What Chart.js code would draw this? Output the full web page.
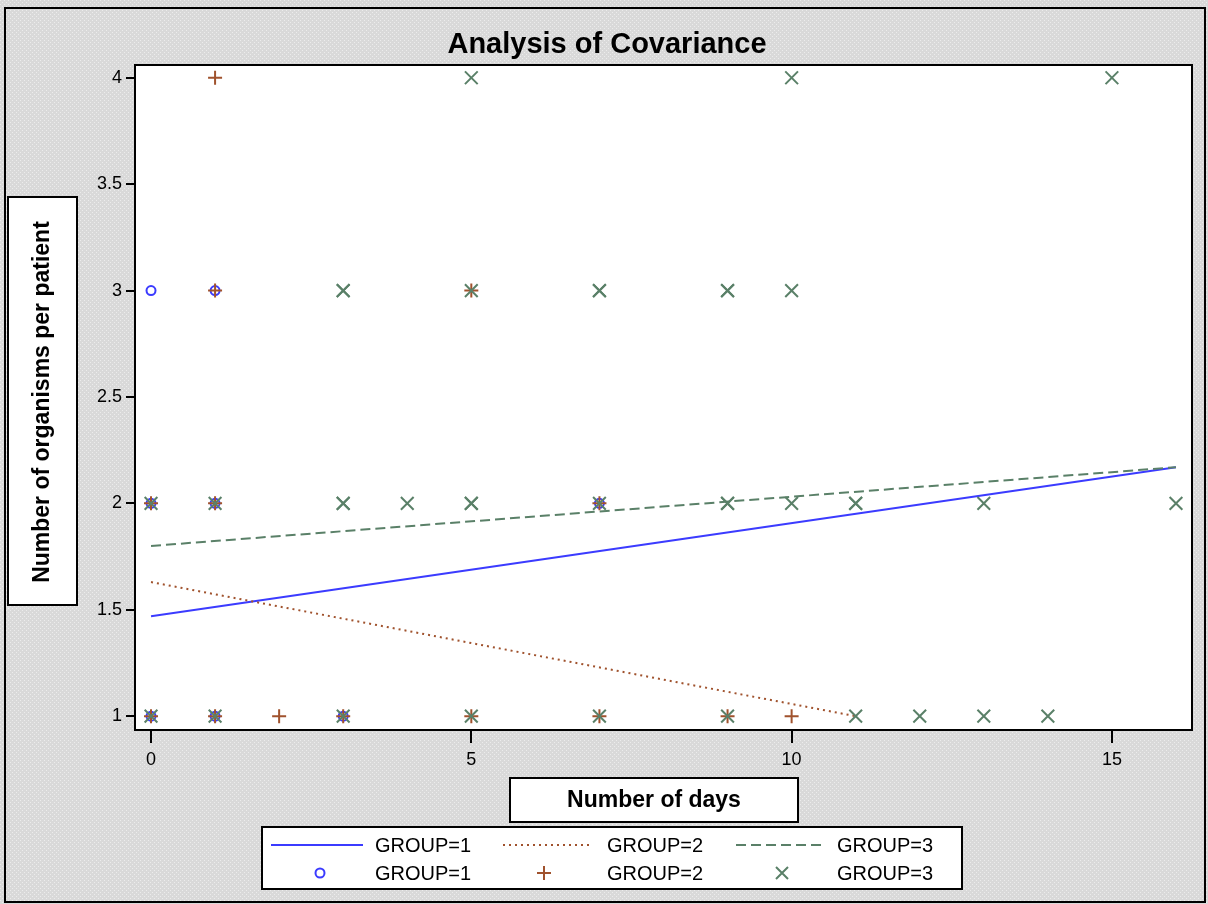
<!DOCTYPE html>
<html>
<head>
<meta charset="utf-8">
<title>Analysis of Covariance</title>
<script src="https://cdn.jsdelivr.net/npm/chart.js@4/dist/chart.umd.min.js"></script>
<style>
  html, body { margin: 0; padding: 0; background: #dcdcdc; }
  canvas { display: block; }
</style>
</head>
<body>
<canvas id="ancova" width="1208" height="904"></canvas>
<script>
// observations per group (x = days, y = organisms)
const group1X = [0, 0, 0, 1, 1, 1, 3, 7];
const group1Y = [1, 2, 3, 1, 2, 3, 1, 2];
const group2X = [0, 0, 1, 1, 1, 1, 2, 3, 5, 5, 7, 7, 9, 10];
const group2Y = [1, 2, 1, 2, 3, 4, 1, 1, 1, 3, 1, 2, 1, 1];
const group3X = [0, 0, 1, 1, 3, 3, 3, 3, 3, 4, 5, 5, 5, 5, 5, 7, 7, 7, 7, 9, 9, 9, 9, 9, 10, 10, 10, 11, 11, 11, 12, 13, 13, 14, 15, 16];
const group3Y = [1, 2, 1, 2, 1, 2, 2, 3, 3, 2, 1, 2, 2, 3, 4, 1, 2, 3, 3, 1, 2, 2, 3, 3, 2, 3, 4, 1, 2, 2, 1, 1, 2, 1, 4, 2];

// fitted lines (ends of each group's regression line)
const fit1X = [0, 16];
const fit1Y = [1.47, 2.17];
const fit2X = [0, 11];
const fit2Y = [1.63, 1.0];
const fit3X = [0, 16];
const fit3Y = [1.80, 2.17];

const xTicks = [0, 5, 10, 15];
const yTicks = [1, 1.5, 2, 2.5, 3, 3.5, 4];
const groupNames = ['GROUP=1', 'GROUP=2', 'GROUP=3'];

const BLUE = '#3b3bff';
const BROWN = '#a0522d';
const GREEN = '#5a8068';
const FONT = '"Liberation Sans", Arial, sans-serif';

const pts = (xs, ys) => xs.map((x, i) => ({ x: x, y: ys[i] }));

// gray dotted backdrop like the original graphic
function makePattern(ctx) {
    const p = document.createElement('canvas');
    p.width = 4; p.height = 4;
    const pc = p.getContext('2d');
    pc.fillStyle = '#d9d9d9';
    pc.fillRect(0, 0, 4, 4);
    pc.fillStyle = '#ececec';
    pc.fillRect(0, 0, 1, 1);
    pc.fillRect(2, 2, 1, 1);
    return ctx.createPattern(p, 'repeat');
}

function drawMarker(ctx, kind, x, y, color) {
    ctx.save();
    ctx.strokeStyle = color;
    ctx.lineWidth = 2;
    ctx.beginPath();
    if (kind === 'circle') {
        ctx.arc(x, y, 4.5, 0, Math.PI * 2);
    } else if (kind === 'cross') {
        ctx.moveTo(x - 7, y); ctx.lineTo(x + 7, y);
        ctx.moveTo(x, y - 7); ctx.lineTo(x, y + 7);
    } else {
        ctx.moveTo(x - 6, y - 6); ctx.lineTo(x + 6, y + 6);
        ctx.moveTo(x + 6, y - 6); ctx.lineTo(x - 6, y + 6);
    }
    ctx.stroke();
    ctx.restore();
}

const decorations = {
    id: 'decorations',
    beforeDraw(chart) {
        const ctx = chart.ctx;
        const a = chart.chartArea;
        ctx.save();
        ctx.fillStyle = makePattern(ctx);
        ctx.fillRect(0, 0, chart.width, chart.height);
        ctx.strokeStyle = '#000';
        ctx.lineWidth = 2;
        ctx.strokeRect(5, 8, 1200, 894);
        ctx.fillStyle = '#fff';
        ctx.fillRect(a.left, a.top, a.right - a.left, a.bottom - a.top);
        ctx.restore();
    },
    afterDraw(chart) {
        const ctx = chart.ctx;
        const a = chart.chartArea;
        ctx.save();
        ctx.strokeStyle = '#000';
        ctx.lineWidth = 2;
        ctx.strokeRect(a.left, a.top, a.right - a.left, a.bottom - a.top);

        // title
        ctx.fillStyle = '#000';
        ctx.textAlign = 'center';
        ctx.textBaseline = 'middle';
        ctx.font = 'bold 29px ' + FONT;
        ctx.fillText('Analysis of Covariance', 607, 45);

        // y axis title box
        ctx.fillStyle = '#fff';
        ctx.fillRect(8, 197, 69, 408);
        ctx.strokeRect(8, 197, 69, 408);
        ctx.save();
        ctx.translate(43, 402);
        ctx.rotate(-Math.PI / 2);
        ctx.fillStyle = '#000';
        ctx.font = 'bold 23px ' + FONT;
        ctx.fillText('Number of organisms per patient', 0, 0);
        ctx.restore();

        // x axis title box
        ctx.fillStyle = '#fff';
        ctx.fillRect(510, 778, 288, 44);
        ctx.strokeRect(510, 778, 288, 44);
        ctx.fillStyle = '#000';
        ctx.font = 'bold 23px ' + FONT;
        ctx.fillText('Number of days', 654, 801);

        // legend
        ctx.fillStyle = '#fff';
        ctx.fillRect(262, 827, 700, 62);
        ctx.strokeRect(262, 827, 700, 62);
        const row1 = 845, row2 = 873;
        const samples = [
            { x0: 271, x1: 363, color: BLUE, dash: [], marker: 'circle', mx: 320, tx: 375 },
            { x0: 503, x1: 589, color: BROWN, dash: [2, 4], marker: 'cross', mx: 544, tx: 607 },
            { x0: 736, x1: 821, color: GREEN, dash: [10, 5], marker: 'crossRot', mx: 782, tx: 837 }
        ];
        ctx.font = '20px ' + FONT;
        ctx.textAlign = 'left';
        samples.forEach((s, i) => {
            ctx.save();
            ctx.strokeStyle = s.color;
            ctx.lineWidth = 2;
            ctx.setLineDash(s.dash);
            ctx.beginPath();
            ctx.moveTo(s.x0, row1);
            ctx.lineTo(s.x1, row1);
            ctx.stroke();
            ctx.restore();
            drawMarker(ctx, s.marker, s.mx, row2, s.color);
            ctx.fillStyle = '#000';
            ctx.fillText(groupNames[i], s.tx, row1 + 1);
            ctx.fillText(groupNames[i], s.tx, row2 + 1);
        });
        ctx.restore();
    }
};

const lineDefaults = { type: 'line', showLine: true, pointRadius: 0, borderWidth: 2, fill: false, tension: 0 };

new Chart(document.getElementById('ancova'), {
    type: 'scatter',
    data: {
        datasets: [
            Object.assign({}, lineDefaults, { label: groupNames[0], data: pts(fit1X, fit1Y), borderColor: BLUE, order: 12 }),
            Object.assign({}, lineDefaults, { label: groupNames[1], data: pts(fit2X, fit2Y), borderColor: BROWN, borderDash: [2, 4], order: 11 }),
            Object.assign({}, lineDefaults, { label: groupNames[2], data: pts(fit3X, fit3Y), borderColor: GREEN, borderDash: [10, 5], order: 10 }),
            { label: groupNames[0], data: pts(group1X, group1Y), pointStyle: 'circle', pointRadius: 4.5, borderColor: BLUE, backgroundColor: 'rgba(0,0,0,0)', borderWidth: 2, order: 3 },
            { label: groupNames[1], data: pts(group2X, group2Y), pointStyle: 'cross', pointRadius: 7, borderColor: BROWN, borderWidth: 2, order: 2 },
            { label: groupNames[2], data: pts(group3X, group3Y), pointStyle: 'crossRot', pointRadius: 9, borderColor: GREEN, borderWidth: 2, order: 1 }
        ]
    },
    options: {
        responsive: false,
        animation: false,
        devicePixelRatio: 1,
        layout: { padding: { left: 0, top: 65, right: 16, bottom: 0 } },
        plugins: {
            legend: { display: false },
            title: { display: false },
            tooltip: { enabled: false }
        },
        scales: {
            x: {
                type: 'linear',
                min: -0.25,
                max: 16.25,
                afterBuildTicks: s => { s.ticks = xTicks.map(v => ({ value: v })); },
                afterFit: s => { s.height = 174; },
                border: { display: false },
                grid: { drawOnChartArea: false, drawTicks: true, tickLength: 13, color: '#000', lineWidth: 2 },
                ticks: { color: '#000', font: { family: FONT, size: 18 }, padding: 6, maxRotation: 0, callback: v => String(v) }
            },
            y: {
                type: 'linear',
                min: 0.935,
                max: 4.06,
                afterBuildTicks: s => { s.ticks = yTicks.map(v => ({ value: v })); },
                afterFit: s => { s.width = 135; },
                border: { display: false },
                grid: { drawOnChartArea: false, drawTicks: true, tickLength: 9, color: '#000', lineWidth: 2 },
                ticks: { color: '#000', font: { family: FONT, size: 18 }, padding: 4, callback: v => String(v) }
            }
        }
    },
    plugins: [decorations]
});
</script>
</body>
</html>
